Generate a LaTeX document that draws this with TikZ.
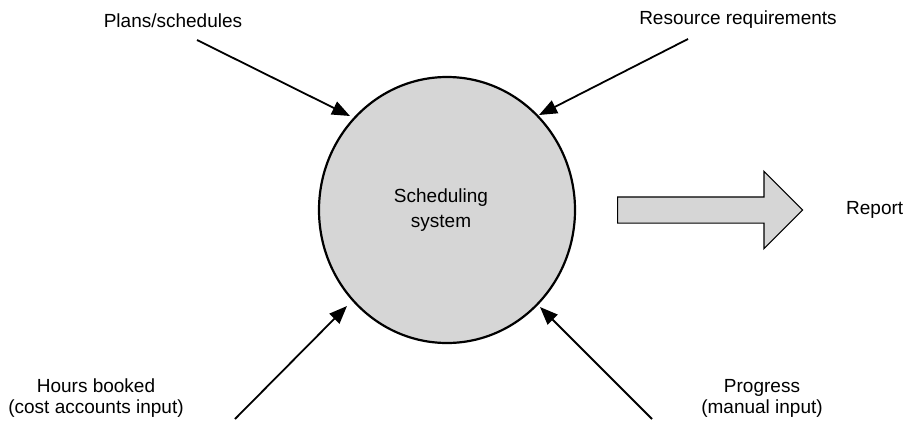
\documentclass[tikz,border=0pt]{standalone}
\usepackage{fontspec}
\setmainfont{Liberation Sans}
\usetikzlibrary{shapes.geometric,shapes.arrows,arrows.meta}

\definecolor{shade}{gray}{0.84}

\tikzset{
  label/.style={font=\fontsize{19}{21}\selectfont, align=center, inner sep=0pt},
  feed/.style={line width=1.8pt, -{Triangle[length=18pt,width=14pt]}},
  core/.style={ellipse, draw, line width=2.2pt, fill=shade, inner sep=0pt,
    minimum width=256pt, minimum height=266pt,
    font=\fontsize{19}{25}\selectfont, align=center},
  outflow/.style={single arrow, draw, line width=1.2pt, fill=shade,
    minimum height=185pt, minimum width=76pt, inner xsep=0pt, inner ysep=12.5pt,
    single arrow head extend=25.5pt, anchor=tail}
}

\begin{document}
\begin{tikzpicture}[x=1pt, y=-1pt]
  \useasboundingbox (0,0) rectangle (910,423);

  % central system
  \node[core] (sys) at (447,210) {};
  \node[label, font=\fontsize{19}{25}\selectfont] (sysname) at (441,210) {Scheduling\\system};

  % output arrow and its label
  \node[outflow] (out) at (617,210) {};
  \node[label, anchor=west] (report) at (846,210) {Report};

  % input labels
  \node[label] (plans) at (173,21) {Plans/schedules};
  \node[label] (res) at (738,20) {Resource requirements};
  \node[label] (hours) at (96,398) {Hours booked\\(cost accounts input)};
  \node[label] (prog) at (762,398) {Progress\\(manual input)};

  % connector ends
  \coordinate (plansTail) at (197,40);
  \coordinate (plansTip) at (350,116);
  \coordinate (resTail) at (688,39);
  \coordinate (resTip) at (539,115);
  \coordinate (hoursTail) at (235,419);
  \coordinate (hoursTip) at (347,306);
  \coordinate (progTail) at (652,419);
  \coordinate (progTip) at (540,307);

  \draw[feed] (plansTail) -- (plansTip);
  \draw[feed] (resTail) -- (resTip);
  \draw[feed] (hoursTail) -- (hoursTip);
  \draw[feed] (progTail) -- (progTip);
\end{tikzpicture}
\end{document}
